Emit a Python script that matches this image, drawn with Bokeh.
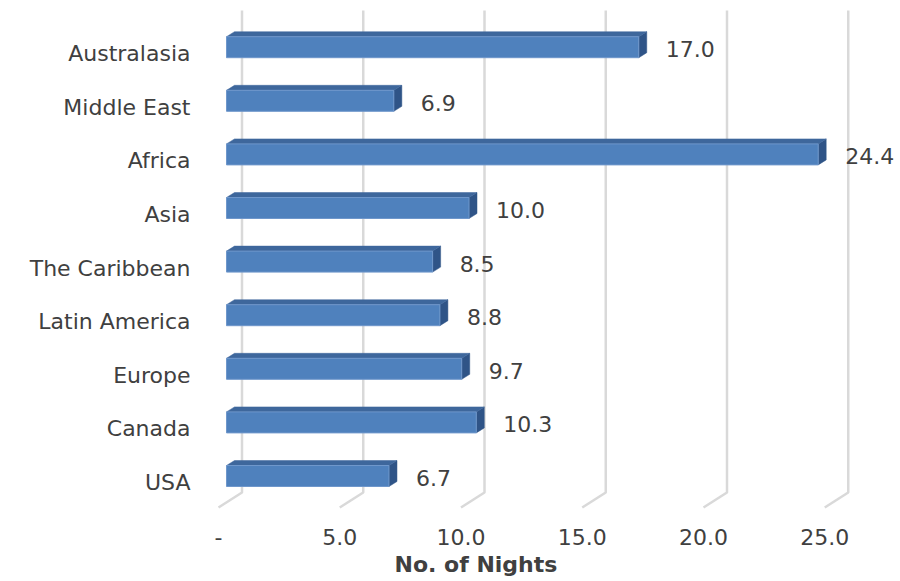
from bokeh.plotting import figure
from bokeh.models import Range1d, LinearAxis, FixedTicker, Title, ColumnDataSource
from bokeh.embed import file_html
from bokeh.resources import INLINE
from bokeh.core.properties import value

# ---- data ----
categories = ["USA", "Canada", "Europe", "Latin America", "The Caribbean",
              "Asia", "Africa", "Middle East", "Australasia"]
nights = [6.7, 10.3, 9.7, 8.8, 8.5, 10.0, 24.4, 6.9, 17.0]
x_ticks = [0, 5, 10, 15, 20, 25]
x_tick_labels = ["-", "5.0", "10.0", "15.0", "20.0", "25.0"]
x_title = "No. of Nights"

# ---- geometry (pixels -> data units) ----
W, H = 896, 580
PX_X = 24.25          # pixels per night
PX_Y = 53.6           # pixels per category
FRAME_L, FRAME_R, FRAME_T, FRAME_B = 205, W, 0, 515   # page pixels
BAR0 = 226            # page x of bar front face zero
FLOOR0 = 218          # page x of floor front zero
BACK0 = 241.5         # page x of back wall zero
LAB0 = 482            # page y of first category label

FONT = value("DejaVu Sans")
TXT = "#404040"
FS = "22px"

p = figure(width=W, height=H, output_backend="svg", toolbar_location=None,
           x_range=Range1d((FRAME_L - BAR0) / PX_X, (FRAME_R - BAR0) / PX_X),
           y_range=Range1d((LAB0 - FRAME_B) / PX_Y, (LAB0 - FRAME_T) / PX_Y),
           x_axis_location=None, y_axis_location="left",
           min_border_left=FRAME_L, min_border_right=0, min_border_top=FRAME_T,
           min_border_bottom=H - FRAME_B)
p.extra_x_ranges = {"floor": Range1d((FRAME_L - FLOOR0) / PX_X, (FRAME_R - FLOOR0) / PX_X)}
p.outline_line_color = None
p.grid.visible = False
p.background_fill_color = "white"
p.border_fill_color = "white"

# y axis: category names
ya = p.yaxis[0]
ya.ticker = FixedTicker(ticks=list(range(len(categories))))
ya.major_label_overrides = {i: c for i, c in enumerate(categories)}
ya.axis_line_color = None
ya.major_tick_line_color = None
ya.minor_tick_line_color = None
ya.major_tick_out = 0
ya.major_tick_in = 0
ya.minor_tick_out = 0
ya.major_label_standoff = 15
ya.major_label_text_font = "DejaVu Sans"
ya.major_label_text_font_size = FS
ya.major_label_text_color = TXT

# x axis on the floor front edge
xa = LinearAxis(x_range_name="floor", ticker=FixedTicker(ticks=x_ticks),
                major_label_overrides={t: l for t, l in zip(x_ticks, x_tick_labels)})
xa.axis_line_color = None
xa.major_tick_line_color = None
xa.minor_tick_line_color = None
xa.major_tick_out = 0
xa.major_tick_in = 0
xa.minor_tick_out = 0
xa.major_label_standoff = 13
xa.major_label_text_font = "DejaVu Sans"
xa.major_label_text_font_size = FS
xa.major_label_text_color = TXT
p.add_layout(xa, "below")
p.add_layout(Title(text=x_title, align="left", offset=189, text_font="DejaVu Sans",
                   text_font_size=FS, text_font_style="bold", text_color=TXT,
                   standoff=4), "below")

# gridlines: back wall vertical, then floor diagonal
g_top = (LAB0 - 10) / PX_Y
g_bot = (LAB0 - 492) / PX_Y
g_front = (LAB0 - 507) / PX_Y
back_off = (BACK0 - BAR0) / PX_X
floor_off = (FLOOR0 - BAR0) / PX_X
p.multi_line(xs=[[t + back_off, t + back_off, t + floor_off] for t in x_ticks],
             ys=[[g_top, g_bot, g_front] for _ in x_ticks],
             line_color="#D9D9D9", line_width=2.5)

# 3D bars
yc = [i + 6.5 / PX_Y for i in range(len(categories))]
hh = 10.5 / PX_Y
dxd = 8 / PX_X
dyd = 5 / PX_Y
side_xs = [[v, v + dxd, v + dxd, v] for v in nights]
side_ys = [[y - hh, y - hh + dyd, y + hh + dyd, y + hh] for y in yc]
top_xs = [[0, v, v + dxd, dxd] for v in nights]
top_ys = [[y + hh, y + hh, y + hh + dyd, y + hh + dyd] for y in yc]
p.patches(side_xs, side_ys, fill_color="#2F5487", line_color="#2F5487", line_width=0.5)
p.patches(top_xs, top_ys, fill_color="#3E679C", line_color="#3E679C", line_width=0.5)
p.quad(left=0, right=nights, bottom=[y - hh for y in yc], top=[y + hh for y in yc],
       fill_color="#4F81BD", line_color="#6F97CB", line_width=1)

# data labels
src = ColumnDataSource(dict(x=[v + 27 / PX_X for v in nights],
                            y=[i + 4.5 / PX_Y for i in range(len(categories))],
                            t=["%.1f" % v for v in nights]))
p.text(x="x", y="y", text="t", source=src, text_font=FONT, text_font_size=FS,
       text_color=TXT, text_align="left", text_baseline="middle")

open("out.html", "w").write(file_html(p, INLINE))
